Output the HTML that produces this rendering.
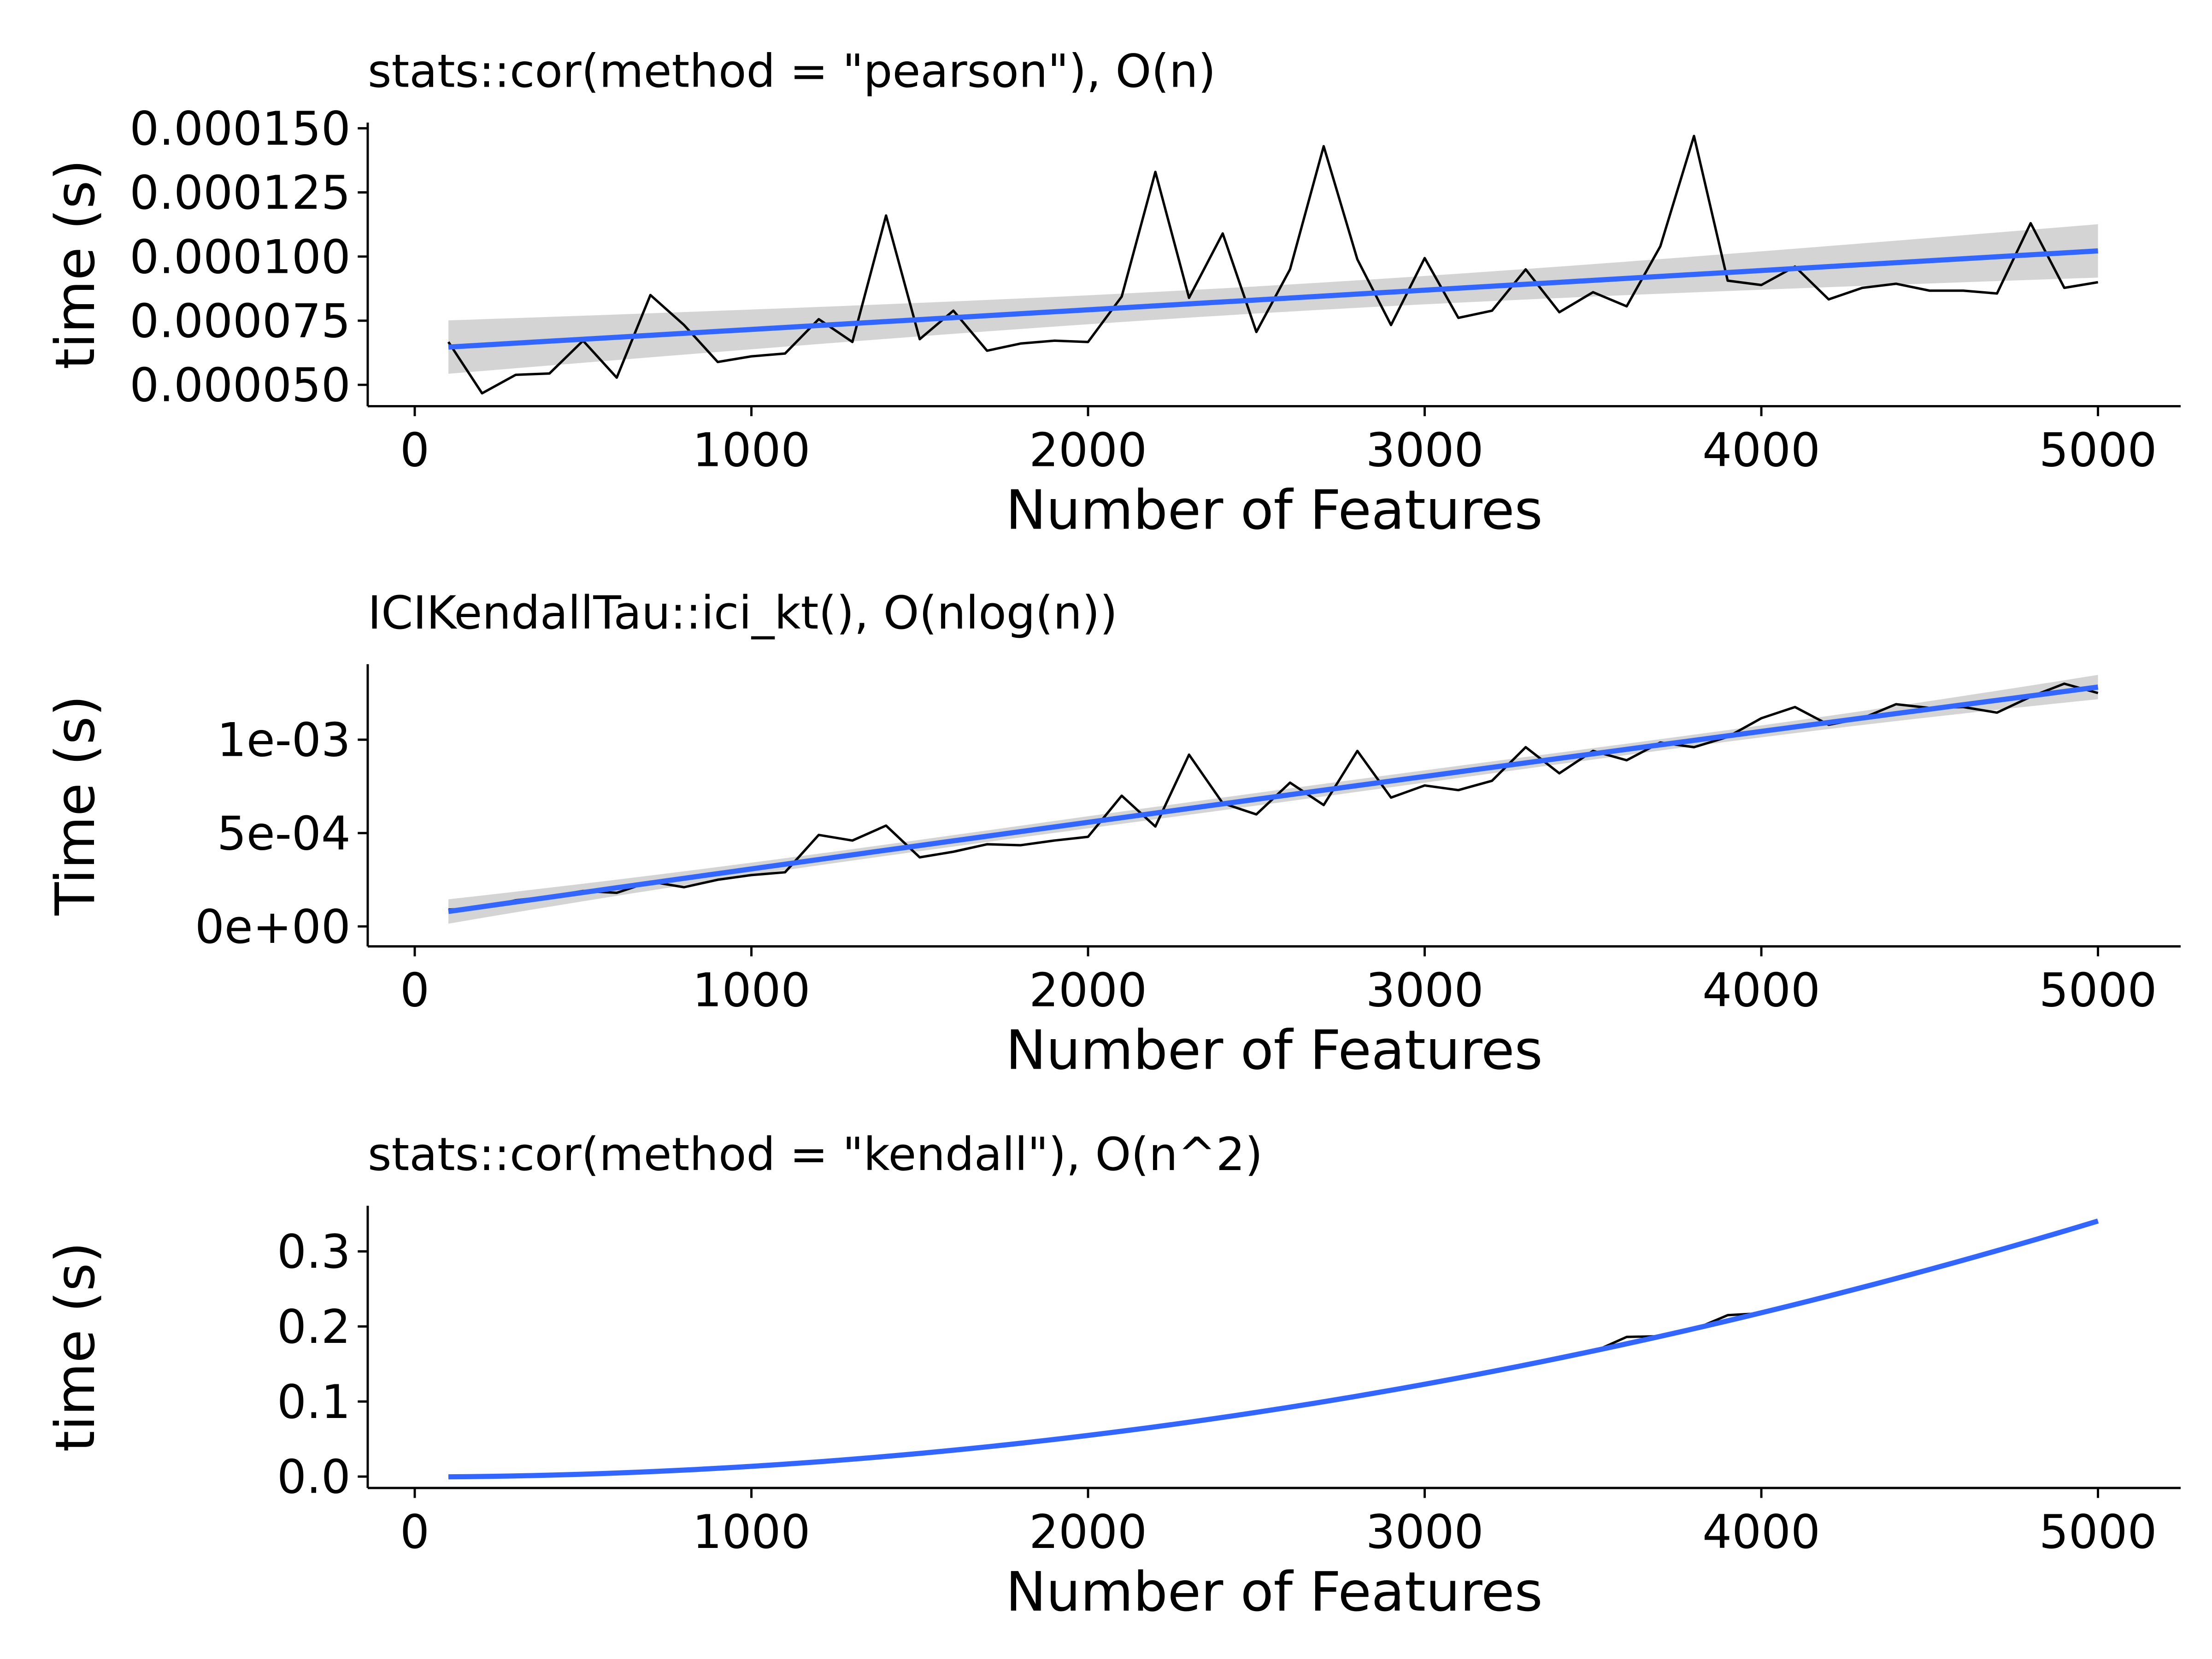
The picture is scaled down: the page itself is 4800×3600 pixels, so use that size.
<!DOCTYPE html>
<html><head><meta charset="utf-8">
<style>
html,body{margin:0;padding:0;background:#fff;}
svg{display:block;}
text{font-family:"DejaVu Sans","Liberation Sans",sans-serif;fill:#000;}
</style></head>
<body>
<svg id="chart" width="4800" height="3600" viewBox="0 0 1552 1164" xmlns="http://www.w3.org/2000/svg">
<rect width="1552" height="1164" fill="#fff"/>
</svg>
<script>
const features = [];
for (let i = 1; i <= 50; i++) features.push(i * 100);
const pearsonTimes = [0.0000667,0.0000467,0.0000539,0.0000544,0.0000672,0.0000528,0.000085,0.0000733,0.0000589,0.0000611,
0.0000622,0.0000756,0.0000667,0.000116,0.0000678,0.0000789,0.0000633,0.0000661,0.0000672,0.0000667,
0.0000844,0.000133,0.0000839,0.000109,0.0000706,0.000095,0.000143,0.0000989,0.0000733,0.0000994,
0.0000761,0.0000789,0.000095,0.0000783,0.0000861,0.0000806,0.000104,0.000147,0.0000906,0.0000889,
0.0000961,0.0000833,0.0000878,0.0000894,0.0000867,0.0000867,0.0000856,0.000113,0.0000878,0.00009];
const iciTimes = [0.00009,0.0001,0.00014,0.00016,0.00019,0.00018,0.00024,0.00021,0.00025,0.000275,
0.00029,0.00049,0.00046,0.00054,0.00037,0.0004,0.00044,0.000435,0.00046,0.00048,
0.0007,0.000535,0.00092,0.00066,0.0006,0.00077,0.00065,0.00094,0.00069,0.000755,
0.00073,0.00078,0.00096,0.00082,0.00094,0.00089,0.000985,0.00096,0.001015,0.001115,
0.001175,0.00108,0.001115,0.00119,0.00117,0.001175,0.001145,0.00123,0.0013,0.00125];
const kendallTimes = [0.0001,0.0005,0.0012,0.0022,0.0034,0.0049,0.0067,0.0087,0.011,0.0136,
0.0165,0.0196,0.023,0.0267,0.0306,0.0348,0.0393,0.044,0.049,0.0544,
0.06,0.0658,0.072,0.0783,0.085,0.092,0.099,0.1066,0.1144,0.1224,
0.1307,0.1393,0.1495,0.157,0.166,0.186,0.187,0.196,0.215,0.2176,
0.2286,0.24,0.2515,0.2633,0.2754,0.2878,0.2995,0.313,0.3265,0.34];
const xTicks = [0,1000,2000,3000,4000,5000];
const p1Ticks = [0.00005,0.000075,0.0001,0.000125,0.00015];
const p1Labels = ["0.000050","0.000075","0.000100","0.000125","0.000150"];
const p2Ticks = [0,0.0005,0.001];
const p2Labels = ["0e+00","5e-04","1e-03"];
const p3Ticks = [0,0.1,0.2,0.3];
const p3Labels = ["0.0","0.1","0.2","0.3"];

const NS = "http://www.w3.org/2000/svg";
const svg = document.getElementById('chart');
function mk(tag, attrs, parent) {
  const e = document.createElementNS(NS, tag);
  for (const k in attrs) e.setAttribute(k, attrs[k]);
  (parent || svg).appendChild(e);
  return e;
}
function solve3(A, b) {
  const M = A.map((r, i) => r.concat([b[i]]));
  const n = M.length;
  for (let i = 0; i < n; i++) {
    let p = i;
    for (let j = i + 1; j < n; j++) if (Math.abs(M[j][i]) > Math.abs(M[p][i])) p = j;
    const tmp = M[i]; M[i] = M[p]; M[p] = tmp;
    for (let j = 0; j < n; j++) if (j !== i) {
      const f = M[j][i] / M[i][i];
      for (let k = i; k <= n; k++) M[j][k] -= f * M[i][k];
    }
  }
  return M.map((r, i) => r[n] / r[i]);
}
function fit(xs, ys, deg) {
  const s = 1000;
  const basis = x => { const r = []; for (let d = 0; d <= deg; d++) r.push(Math.pow(x / s, d)); return r; };
  const p = deg + 1;
  const XtX = Array.from({length: p}, () => Array(p).fill(0));
  const Xty = Array(p).fill(0);
  xs.forEach((x, i) => { const b = basis(x);
    for (let a = 0; a < p; a++) { Xty[a] += b[a] * ys[i]; for (let c = 0; c < p; c++) XtX[a][c] += b[a] * b[c]; } });
  const beta = solve3(XtX, Xty);
  const pred = x => basis(x).reduce((t, v, i) => t + v * beta[i], 0);
  let rss = 0; xs.forEach((x, i) => rss += (ys[i] - pred(x)) ** 2);
  const sigma2 = rss / (xs.length - p);
  const inv = [];
  for (let c = 0; c < p; c++) { const e = Array(p).fill(0); e[c] = 1; inv.push(solve3(XtX, e)); }
  const se = x => { const b = basis(x); let v = 0;
    for (let a = 0; a < p; a++) for (let c = 0; c < p; c++) v += b[a] * inv[c][a] * b[c];
    return Math.sqrt(Math.max(0, sigma2 * v)); };
  return {pred, se};
}

function panel(cfg) {
  const g = mk('g', {});
  
  
  const L = 258, R = 1530, T = cfg.top, B = cfg.bottom;
  const xs = v => 291 + (v / 5000) * (1472 - 291);
  const ys = v => cfg.y0px + (v - cfg.y0) / (cfg.y1 - cfg.y0) * (cfg.y1px - cfg.y0px);
  const f = fit(features, cfg.data, cfg.deg);
  const xsSm = []; for (let i = 0; i <= 80; i++) xsSm.push(100 + i * 4900 / 80);
  let up = [], lo = [];
  xsSm.forEach(x => { const m = f.pred(x), e = 2.01 * f.se(x);
    up.push(xs(x) + ',' + ys(m + e)); lo.push(xs(x) + ',' + ys(m - e)); });
  const band = mk('polygon', {points: up.concat(lo.reverse()).join(' '), fill: '#d4d4d4'}, g);
  
  
  const raw = mk('polyline', {points: features.map((x, i) => xs(x) + ',' + ys(cfg.data[i])).join(' '),
    fill: 'none', stroke: '#000', 'stroke-width': 1.7, 'stroke-linejoin': 'round'}, g);
  
  
  const sm = mk('polyline', {points: xsSm.map(x => xs(x) + ',' + ys(f.pred(x))).join(' '),
    fill: 'none', stroke: '#3366FF', 'stroke-width': 3.6}, g);
  
  
  mk('line', {x1: L, y1: T, x2: L, y2: B, stroke: '#000', 'stroke-width': 1.6}, g);
  mk('line', {x1: L, y1: B, x2: R, y2: B, stroke: '#000', 'stroke-width': 1.6}, g);
  xTicks.forEach(t => {
    mk('line', {x1: xs(t), y1: B, x2: xs(t), y2: B + 7, stroke: '#000', 'stroke-width': 1.6}, g);
    const tx = mk('text', {x: xs(t), y: B + 42, 'text-anchor': 'middle', 'font-size': 32.5}, g);
    tx.textContent = t;
    
    
  });
  cfg.ticks.forEach((t, i) => {
    mk('line', {x1: L - 7, y1: ys(t), x2: L, y2: ys(t), stroke: '#000', 'stroke-width': 1.6}, g);
    const tx = mk('text', {x: L - 12, y: ys(t) + 11.5, 'text-anchor': 'end', 'font-size': 32.5}, g);
    tx.textContent = cfg.labels[i];
    
    
  });
  const xt = mk('text', {x: 894, y: B + 86, 'text-anchor': 'middle', 'font-size': 38}, g);
  xt.textContent = 'Number of Features';
  
  
  const yc = (T + B) / 2;
  const yt = mk('text', {x: 0, y: 0, 'text-anchor': 'middle', 'font-size': 38,
    transform: `translate(${cfg.ytx},${yc}) rotate(-90)`}, g);
  yt.textContent = cfg.ytitle;
  
  
  const ti = mk('text', {x: 258, y: T - 25, 'font-size': 32}, g);
  ti.textContent = cfg.title;
  
  
}
panel({name: 'pearson-panel', top: 86, bottom: 285, data: pearsonTimes, deg: 1,
  y0: 0.00005, y1: 0.00015, y0px: 270, y1px: 90, ticks: p1Ticks, labels: p1Labels,
  ytitle: 'time (s)', ytx: 66, title: 'stats::cor(method = "pearson"), O(n)'});
panel({name: 'ici-kt-panel', top: 466, bottom: 664, data: iciTimes, deg: 2,
  y0: 0, y1: 0.001, y0px: 650, y1px: 519, ticks: p2Ticks, labels: p2Labels,
  ytitle: 'Time (s)', ytx: 66, title: 'ICIKendallTau::ici_kt(), O(nlog(n))'});
panel({name: 'kendall-panel', top: 846, bottom: 1044, data: kendallTimes, deg: 2,
  y0: 0, y1: 0.3, y0px: 1036, y1px: 878, ticks: p3Ticks, labels: p3Labels,
  ytitle: 'time (s)', ytx: 66, title: 'stats::cor(method = "kendall"), O(n^2)'});
</script>
</body></html>
